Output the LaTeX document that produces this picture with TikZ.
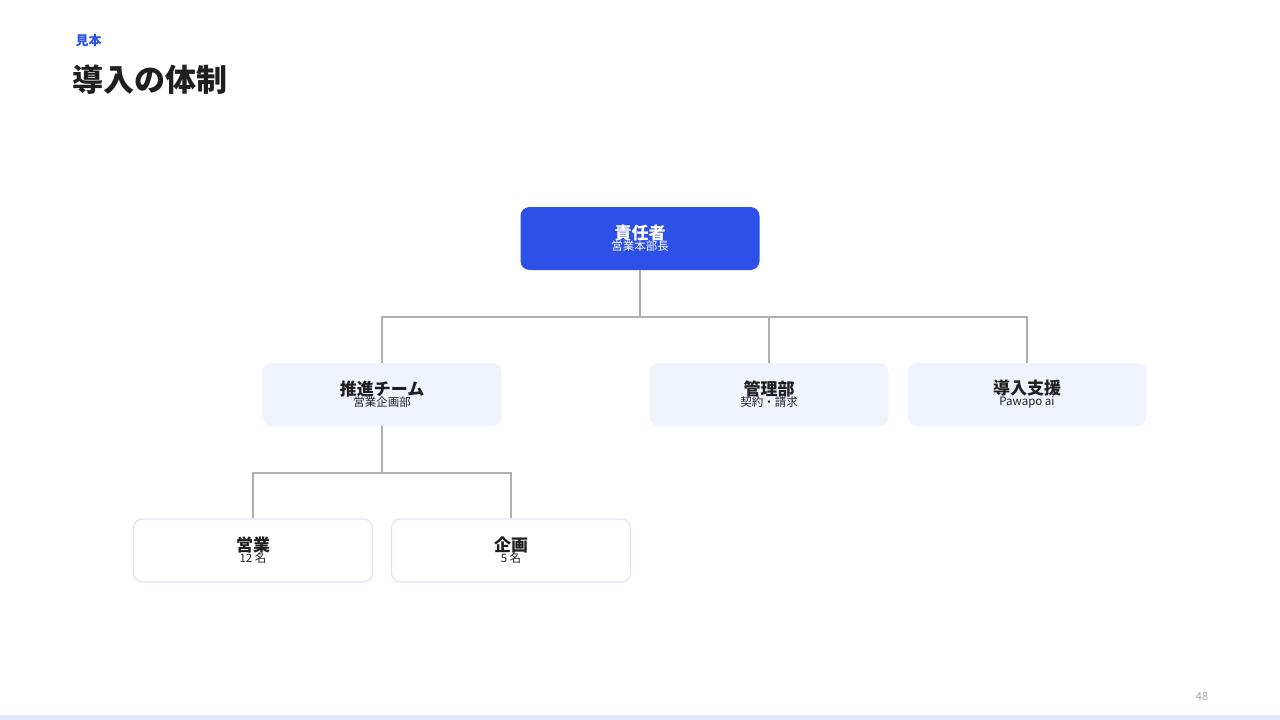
\documentclass[tikz,border=0pt]{standalone}
\usepackage{fontspec}
\setmainfont{Noto Sans CJK JP}
\newfontfamily\jpbold{Noto Sans CJK JP Bold}
\usetikzlibrary{positioning}
\definecolor{accent}{HTML}{2D50E6}
\definecolor{pale}{HTML}{EFF3FD}
\definecolor{rim}{HTML}{DCE4F7}
\definecolor{ink}{HTML}{1F1F1F}
\definecolor{wire}{HTML}{AFAFAF}
\tikzset{
  box/.style={rounded corners=9pt, minimum width=239pt, minimum height=63pt, align=center, text=ink},
  headbox/.style={box, fill=accent, text=white},
  teambox/.style={box, fill=pale},
  unitbox/.style={box, fill=white, draw=rim, line width=1.2pt},
  link/.style={draw=wire, line width=1.5pt}
}
\newcommand{\boxlabel}[2]{{\fontsize{17}{20}\selectfont\bfseries #1}\\[-1pt]{\fontsize{11.5}{14}\selectfont #2}}
\begin{document}
\begin{tikzpicture}[x=1pt,y=-1pt]
        \useasboundingbox (0,0) rectangle (1280,720);
        \fill[rim!80] (0,715) rectangle (1280,720);
        % header
        \node[anchor=west, text=accent, font=\fontsize{13}{15}\selectfont\bfseries] (tag) at (72,41) {見本};
        \node[anchor=west, text=ink, font=\fontsize{31}{36}\selectfont\bfseries] (title) at (69,80) {導入の体制};
        \node[text=gray!70, font=\fontsize{11}{13}\selectfont] (page) at (1202,697) {48};

        % boxes
        \node[headbox] (lead) at (640,238.5) {\boxlabel{責任者}{営業本部長}};
        \node[teambox] (promo) at (382,394.5) {\boxlabel{推進チーム}{営業企画部}};
        \node[teambox] (admin) at (769,394.5) {\boxlabel{管理部}{契約・請求}};
        \node[teambox] (support) at (1027,394.5) {\boxlabel{導入支援}{Pawapo ai}};
        \node[unitbox] (sales) at (253,550.5) {\boxlabel{営業}{12 名}};
        \node[unitbox] (plan) at (511,550.5) {\boxlabel{企画}{5 名}};

        % connectors
        \coordinate (busA) at (640,317);
        \coordinate (busB) at (382,473);
        \draw[link] (lead.south) -- (busA);
        \draw[link] (promo.north) |- (busA) -| (support.north);
        \draw[link] (admin.north) -- (admin.north |- busA);
        \draw[link] (promo.south) -- (busB);
        \draw[link] (sales.north) |- (busB) -| (plan.north);
\end{tikzpicture}
\end{document}
